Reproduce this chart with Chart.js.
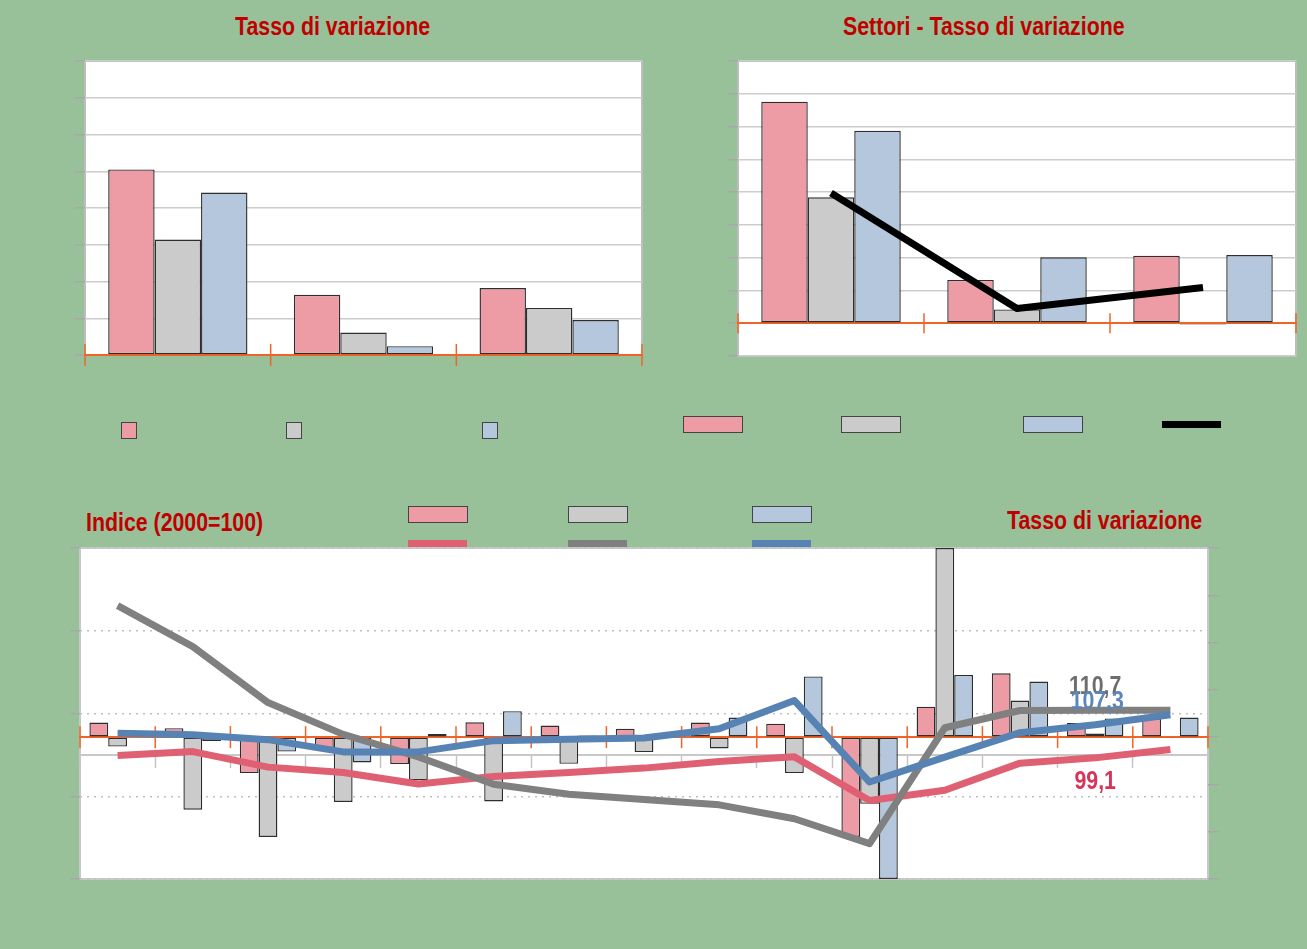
<!DOCTYPE html>
<html lang="it">
<head>
<meta charset="utf-8">
<title>Tasso di variazione</title>
<script src="https://cdn.jsdelivr.net/npm/chart.js@4.4.1/dist/chart.umd.min.js"></script>
<style>
    body {
        margin: 0;
        width: 1307px;
        height: 949px;
        overflow: hidden;
        position: relative;
        background: #98c199;
        font-family: "Liberation Sans", Arial, sans-serif;
    }
    canvas { position: absolute; }
    .title {
        position: absolute;
        color: #c00000;
        font-weight: bold;
        font-size: 26px;
        line-height: 26px;
        white-space: nowrap;
        transform: scaleX(0.82);
        transform-origin: 0 0;
    }
    .sw { position: absolute; box-sizing: border-box; border: 1px solid #444; }
    .ln { position: absolute; height: 7px; width: 59px; }
</style>
</head>
<body>

<div class="title" style="left:235px; top:13px;">Tasso di variazione</div>
<div class="title" style="left:843px; top:13px;">Settori - Tasso di variazione</div>
<div class="title" style="left:86px; top:509px;">Indice (2000=100)</div>
<div class="title" style="left:1007px; top:507px;">Tasso di variazione</div>

<canvas id="chartTL" width="610" height="330" style="left:50px; top:50px;"></canvas>
<canvas id="chartTR" width="607" height="330" style="left:700px; top:50px;"></canvas>
<canvas id="chartBottom" width="1190" height="350" style="left:50px; top:540px;"></canvas>

<!-- legend swatches (no text in the original) -->
<div class="sw" style="left:121px; top:422px; width:16px; height:17px; background:#ed9ba4;"></div>
<div class="sw" style="left:286px; top:422px; width:16px; height:17px; background:#cbcbcb;"></div>
<div class="sw" style="left:482px; top:422px; width:16px; height:17px; background:#b4c7dd;"></div>
<div class="sw" style="left:683px; top:416px; width:60px; height:17px; background:#ed9ba4;"></div>
<div class="sw" style="left:841px; top:416px; width:60px; height:17px; background:#cbcbcb;"></div>
<div class="sw" style="left:1023px; top:416px; width:60px; height:17px; background:#b4c7dd;"></div>
<div class="ln" style="left:1162px; top:421px; background:#000;"></div>

<div class="sw" style="left:408px; top:506px; width:60px; height:17px; background:#ed9ba4;"></div>
<div class="sw" style="left:568px; top:506px; width:60px; height:17px; background:#cbcbcb;"></div>
<div class="sw" style="left:752px; top:506px; width:60px; height:17px; background:#b4c7dd;"></div>
<div class="ln" style="left:408px; top:540px; background:#e06073; z-index:2;"></div>
<div class="ln" style="left:568px; top:540px; background:#808080; z-index:2;"></div>
<div class="ln" style="left:752px; top:540px; background:#5682b4; z-index:2;"></div>

<script>
// Data - top left (tasso di variazione)
const tlCategories = ['g1', 'g2', 'g3'];
const tlPink = [5.05, 1.64, 1.82];
const tlGray = [3.14, 0.61, 1.28];
const tlBlue = [4.42, 0.24, 0.95];

// Data - top right (settori)
const trCategories = ['s1', 's2', 's3'];
const trPink = [6.76, 1.32, 2.06];
const trGray = [3.84, 0.42, -0.04];
const trBlue = [5.87, 2.01, 2.08];
const trLine = [3.97, 0.45, 1.09];

// Data - bottom (bars = tasso di variazione, lines = indice)
const periods = ['1', '2', '3', '4', '5', '6', '7', '8', '9', '10', '11', '12', '13', '14', '15'];
const ratePink = [0.62, 0.38, -1.52, -0.5, -1.14, 0.63, 0.49, 0.35, 0.62, 0.57, -4.22, 1.29, 2.70, 0.6, 0.8];
const rateGray = [-0.40, -3.07, -4.22, -2.74, -1.82, -2.72, -1.13, -0.63, -0.48, -1.52, -2.82, 8.0, 1.55, 0.15, -0.03];
const rateBlue = [0.1, -0.16, -0.61, -1.07, 0.13, 1.10, 0.07, 0.15, 0.83, 2.57, -6.0, 2.63, 2.35, 0.79, 0.83];
const indexRed = [97.3, 98.5, 93.8, 92.2, 88.7, 91.0, 92.2, 93.5, 95.5, 96.9, 83.7, 86.8, 95.0, 96.6, 99.1];
const indexGray = [142.6, 130.2, 113.3, 103.7, 96.9, 88.6, 85.6, 84.0, 82.4, 78.2, 70.7, 105.7, 110.9, 111.0, 111.0];
const indexBlue = [104.0, 103.6, 102.1, 98.4, 98.4, 101.8, 102.2, 102.6, 105.4, 113.9, 89.3, 96.8, 104.2, 106.6, 109.6];
const endLabels = ['99,1', '110,7', '107,3'];

// Colors
const PINK = '#ed9ba4', GRAY = '#cbcbcb', BLUE = '#b4c7dd';
const ORANGE = '#f0642a';
const LINE_RED = '#e06073', LINE_GRAY = '#808080', LINE_BLUE = '#5682b4';

// white plot area + grey frame
const plotFrame = {
    id: 'plotFrame',
    beforeDraw(chart, args, opts) {
        const {ctx, chartArea: a} = chart;
        ctx.save();
        ctx.fillStyle = '#ffffff';
        ctx.fillRect(a.left, a.top, a.width, a.height);
        ctx.strokeStyle = opts.color || '#bdbdbd';
        ctx.lineWidth = 2;
        ctx.strokeRect(a.left, a.top, a.width, a.height);
        ctx.restore();
    }
};

// orange tick marks crossing the zero line at category boundaries
const crossTicks = {
    id: 'crossTicks',
    beforeDatasetsDraw(chart, args, opts) {
        const xs = chart.scales.x;
        const ys = chart.scales[opts.yAxis];
        const y0 = ys.getPixelForValue(0);
        const n = chart.data.labels.length;
        const step = xs.width / n;
        const ctx = chart.ctx;
        ctx.save();
        ctx.strokeStyle = ORANGE;
        ctx.lineWidth = 1.5;
        for (let i = 0; i <= n; i++) {
            const x = xs.left + i * step;
            ctx.beginPath();
            ctx.moveTo(x, y0 - opts.len);
            ctx.lineTo(x, y0 + opts.len);
            ctx.stroke();
        }
        ctx.restore();
    }
};

// last-value labels on the index lines (narrow bold look)
const valueLabels = {
    id: 'valueLabels',
    afterDatasetsDraw(chart, args, opts) {
        const ctx = chart.ctx;
        opts.items.forEach(item => {
            const pt = chart.getDatasetMeta(item.dataset).data[opts.index];
            ctx.save();
            ctx.translate(pt.x + item.dx, pt.y + item.dy);
            ctx.scale(0.82, 1);
            ctx.font = 'bold 26px "Liberation Sans", Arial, sans-serif';
            ctx.textAlign = 'center';
            ctx.textBaseline = 'middle';
            ctx.fillStyle = item.color;
            ctx.fillText(item.text, 0, 0);
            ctx.restore();
        });
    }
};

function barSet(data, color, extra) {
    return Object.assign({
        type: 'bar',
        data: data,
        backgroundColor: color,
        borderColor: '#2e2e2e',
        borderWidth: 1.4,
        borderSkipped: false,
        categoryPercentage: 0.75,
        barPercentage: 1.0
    }, extra || {});
}

function lineSet(data, color, extra) {
    return Object.assign({
        type: 'line',
        data: data,
        borderColor: color,
        borderWidth: 7,
        pointRadius: 0,
        tension: 0,
        fill: false,
        borderJoinStyle: 'round'
    }, extra || {});
}

const baseOptions = {
    responsive: false,
    animation: false,
    events: []
};

const hiddenX = {
    grid: { display: false, drawTicks: false, tickLength: 0 },
    ticks: { display: false },
    border: { color: ORANGE, width: 2 }
};

// Top left chart
new Chart(document.getElementById('chartTL'), {
    type: 'bar',
    data: {
        labels: tlCategories,
        datasets: [barSet(tlPink, PINK), barSet(tlGray, GRAY), barSet(tlBlue, BLUE)]
    },
    options: Object.assign({}, baseOptions, {
        layout: { padding: { left: 25, right: 18, top: 11, bottom: 25 } },
        plugins: {
            legend: { display: false },
            tooltip: { enabled: false },
            crossTicks: { yAxis: 'y', len: 11 },
            plotFrame: { color: '#bdbdbd' }
        },
        scales: {
            x: Object.assign({}, hiddenX),
            y: {
                min: 0, max: 8,
                ticks: { display: false, stepSize: 1 },
                grid: { color: '#cccccc', lineWidth: 1.5, tickLength: 10, tickColor: '#a8a8a8' },
                border: { display: false }
            }
        }
    }),
    plugins: [plotFrame, crossTicks]
});

// Top right chart
new Chart(document.getElementById('chartTR'), {
    type: 'bar',
    data: {
        labels: trCategories,
        datasets: [
            lineSet(trLine, '#000000', { borderWidth: 7, order: 0 }),
            barSet(trPink, PINK, { order: 1 }),
            barSet(trGray, GRAY, { order: 1 }),
            barSet(trBlue, BLUE, { order: 1 })
        ]
    },
    options: Object.assign({}, baseOptions, {
        layout: { padding: { left: 28, right: 11, top: 11, bottom: 24 } },
        plugins: {
            legend: { display: false },
            tooltip: { enabled: false },
            crossTicks: { yAxis: 'y', len: 10 },
            plotFrame: { color: '#bdbdbd' }
        },
        scales: {
            x: Object.assign({ position: { y: 0 } }, hiddenX),
            y: {
                min: -1, max: 8,
                ticks: { display: false, stepSize: 1 },
                grid: { color: '#cccccc', lineWidth: 1.5, tickLength: 10, tickColor: '#a8a8a8' },
                border: { display: false }
            }
        }
    }),
    plugins: [plotFrame, crossTicks]
});

// Bottom chart
new Chart(document.getElementById('chartBottom'), {
    type: 'bar',
    data: {
        labels: periods,
        datasets: [
            lineSet(indexRed, LINE_RED, { yAxisID: 'y', order: 3 }),
            lineSet(indexGray, LINE_GRAY, { yAxisID: 'y', order: 2 }),
            lineSet(indexBlue, LINE_BLUE, { yAxisID: 'y', order: 1 }),
            barSet(ratePink, PINK, { yAxisID: 'y1', order: 5 }),
            barSet(rateGray, GRAY, { yAxisID: 'y1', order: 5 }),
            barSet(rateBlue, BLUE, { yAxisID: 'y1', order: 5 })
        ]
    },
    options: Object.assign({}, baseOptions, {
        layout: { padding: { left: 20, right: 21, top: 8, bottom: 11 } },
        plugins: {
            legend: { display: false },
            tooltip: { enabled: false },
            crossTicks: { yAxis: 'y1', len: 11 },
            plotFrame: { color: '#c8c8c8' },
            valueLabels: {
                index: 13,
                items: [
                    { dataset: 0, text: endLabels[0], color: '#d8345a', dx: 0, dy: 24 },
                    { dataset: 1, text: endLabels[1], color: '#6e6e6e', dx: 0, dy: -23 },
                    { dataset: 2, text: endLabels[2], color: '#5a86b8', dx: 2, dy: -23 }
                ]
            }
        },
        scales: {
            x: Object.assign({ position: { y1: 0 }, offset: true }, hiddenX),
            x2: {
                axis: 'x',
                type: 'category',
                position: { y: 97.5 },
                offset: true,
                grid: { offset: true, drawOnChartArea: false, tickLength: 12, tickColor: '#c4c4c4', tickWidth: 1.5 },
                ticks: { display: false },
                border: { color: '#c8c8c8', width: 2 }
            },
            y: {
                position: 'left',
                min: 60, max: 160,
                ticks: { display: false, stepSize: 25 },
                grid: { color: '#bfbfbf', lineWidth: 1.5, tickLength: 10, tickColor: '#a8a8a8', tickBorderDash: [1, 0] },
                border: { display: false, dash: [2, 5] }
            },
            y1: {
                position: 'right',
                min: -6, max: 8,
                ticks: { display: false, stepSize: 2 },
                grid: { drawOnChartArea: false, tickLength: 11, tickColor: '#a8a8a8', lineWidth: 1.5 },
                border: { display: false }
            }
        }
    }),
    plugins: [plotFrame, crossTicks, valueLabels]
});
</script>
</body>
</html>
